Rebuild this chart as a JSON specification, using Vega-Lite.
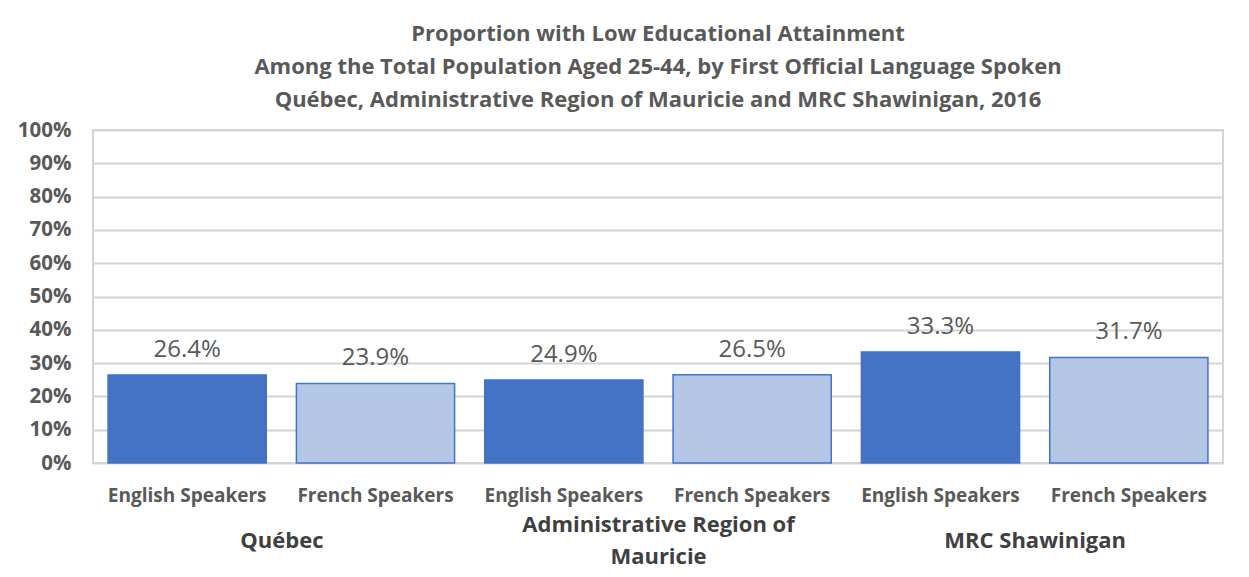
{
  "$schema": "https://vega.github.io/schema/vega-lite/v6.json",
  "width": 1130,
  "height": 333,
  "padding": {"left": 17, "top": 23, "right": 20, "bottom": 5},
  "background": "white",
  "title": {
    "text": ["Proportion with Low Educational Attainment", "Among the Total Population Aged 25-44, by First Official Language Spoken", "Québec, Administrative Region of Mauricie and MRC Shawinigan, 2016"],
    "font": "Open Sans",
    "fontSize": 22,
    "fontWeight": "bold",
    "color": "#595959",
    "lineHeight": 33,
    "anchor": "middle",
    "offset": 8
  },
  "data": {
    "values": [
      {"region": "Québec", "group": "English Speakers", "key": "Québec|English Speakers", "value": 0.264},
      {"region": "Québec", "group": "French Speakers", "key": "Québec|French Speakers", "value": 0.239},
      {"region": "Administrative Region of Mauricie", "group": "English Speakers", "key": "Mauricie|English Speakers", "value": 0.249},
      {"region": "Administrative Region of Mauricie", "group": "French Speakers", "key": "Mauricie|French Speakers", "value": 0.265},
      {"region": "MRC Shawinigan", "group": "English Speakers", "key": "Shawinigan|English Speakers", "value": 0.333},
      {"region": "MRC Shawinigan", "group": "French Speakers", "key": "Shawinigan|French Speakers", "value": 0.317}
    ]
  },
  "layer": [
    {
      "layer": [
        {
          "mark": {"type": "bar", "stroke": "#4472C4", "strokeWidth": 1.5},
          "encoding": {
            "x": {
              "field": "key", "type": "nominal", "sort": null,
              "scale": {"paddingInner": 0.16, "paddingOuter": 0.08},
              "axis": {
                "title": null,
                "labelAngle": 0,
                "labelExpr": "split(datum.label, '|')[1]",
                "labelFont": "Open Sans", "labelFontSize": 19, "labelFontWeight": "bold", "labelColor": "#595959",
                "labelPadding": 32, "labelBaseline": "middle", "labelLimit": 0,
                "ticks": false, "domain": false, "grid": false
              }
            },
            "y": {
              "field": "value", "type": "quantitative",
              "scale": {"domain": [0, 1], "nice": false},
              "axis": {
                "title": null,
                "values": [0, 0.1, 0.2, 0.3, 0.4, 0.5, 0.6, 0.7, 0.8, 0.9, 1],
                "tickCount": 11,
                "format": ".0%",
                "labelFont": "Open Sans", "labelFontSize": 20.5, "labelFontWeight": "bold", "labelColor": "#595959",
                "labelPadding": 22, "labelOverlap": false,
                "ticks": false, "domain": false,
                "grid": true, "gridColor": "#d4d4d4", "gridWidth": 2
              }
            },
            "fill": {
              "field": "group", "type": "nominal",
              "scale": {"domain": ["English Speakers", "French Speakers"], "range": ["#4472C4", "#B4C7E7"]},
              "legend": null
            }
          }
        },
        {
          "mark": {"type": "text", "baseline": "bottom", "dy": -13, "font": "Open Sans", "fontSize": 24, "color": "#595959"},
          "encoding": {
            "x": {"field": "key", "type": "nominal", "sort": null},
            "y": {"field": "value", "type": "quantitative"},
            "text": {"field": "value", "type": "quantitative", "format": ".1%"}
          }
        }
      ]
    },
    {
      "mark": {"type": "text", "text": ""},
      "encoding": {
        "x": {
          "field": "region", "type": "nominal",
          "sort": ["Québec", "Administrative Region of Mauricie", "MRC Shawinigan"],
          "scale": {"paddingInner": 0, "paddingOuter": 0},
          "axis": {
            "orient": "bottom",
            "title": null,
            "labelAngle": 0,
            "labelExpr": "datum.label == 'Administrative Region of Mauricie' ? ['Administrative Region of', 'Mauricie'] : datum.label",
            "labelFont": "Open Sans", "labelFontSize": 22, "labelFontWeight": "bold", "labelColor": "#404040",
            "labelLineHeight": 32, "labelLimit": 0,
            "labelPadding": {"condition": {"test": "datum.value == 'Administrative Region of Mauricie'", "value": 61}, "value": 77},
            "labelBaseline": "middle",
            "ticks": false, "domain": false, "grid": false
          }
        },
        "y": {"datum": 0, "type": "quantitative"}
      }
    }
  ],
  "resolve": {"scale": {"x": "independent"}, "axis": {"x": "independent"}},
  "config": {
    "view": {"stroke": "#d4d4d4", "strokeWidth": 2}
  }
}
